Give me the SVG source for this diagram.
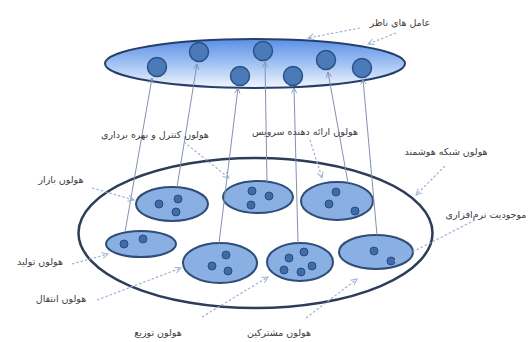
<svg xmlns="http://www.w3.org/2000/svg" width="531" height="342" viewBox="0 0 531 342">
<defs>
<linearGradient id="topGrad" x1="0" y1="0" x2="0" y2="1">
<stop offset="0" stop-color="#5a8fe6"/>
<stop offset="0.55" stop-color="#a8c7f4"/>
<stop offset="1" stop-color="#f2f6ff"/>
</linearGradient>
<marker id="arr" viewBox="0 0 8 8" refX="7" refY="4" markerWidth="7" markerHeight="7" orient="auto" markerUnits="userSpaceOnUse">
<path d="M1,1 L7,4 L1,7" fill="none" stroke="#8391b3" stroke-width="1"/>
</marker>
<marker id="darr" viewBox="0 0 8 8" refX="7" refY="4" markerWidth="8" markerHeight="8" orient="auto" markerUnits="userSpaceOnUse">
<path d="M1,1 L7,4 L1,7" fill="none" stroke="#9fb2d4" stroke-width="1"/>
</marker>
</defs>
<style>
.lbl{font-family:"DejaVu Sans",sans-serif;font-size:9.5px;fill:#3c3c3c;text-anchor:middle}
.sm{fill:#89afe3;stroke:#2f4d76;stroke-width:2}
.dot{fill:#3d6ca8;stroke:#2b4d80;stroke-width:1}
.cir{fill:#4a7bb8;stroke:#2c5185;stroke-width:1.5}
.ln{stroke:#8391b3;stroke-width:1;fill:none;marker-end:url(#arr)}
.dl{stroke:#9fb2d4;stroke-width:1.2;fill:none;stroke-dasharray:2.5 2;marker-end:url(#darr)}
</style>
<rect width="531" height="342" fill="#ffffff"/>

<g id="agents">
<ellipse cx="255" cy="63.5" rx="150" ry="24.5" fill="url(#topGrad)" stroke="#263f6a" stroke-width="2"/>
<circle class="cir" cx="157" cy="67" r="9.5"/>
<circle class="cir" cx="199" cy="52" r="9.5"/>
<circle class="cir" cx="240" cy="76" r="9.5"/>
<circle class="cir" cx="263" cy="51" r="9.5"/>
<circle class="cir" cx="293" cy="76" r="9.5"/>
<circle class="cir" cx="326" cy="60" r="9.5"/>
<circle class="cir" cx="362" cy="68" r="9.5"/>
</g>

<g id="smart-grid">
<ellipse cx="255.5" cy="233" rx="177" ry="75" fill="#ffffff" stroke="#2d3c57" stroke-width="2.5"/>
</g>

<g id="market-holon">
<ellipse class="sm" cx="172" cy="204" rx="36" ry="17"/>
<circle class="dot" cx="159" cy="204" r="4"/>
<circle class="dot" cx="178" cy="199" r="4"/>
<circle class="dot" cx="176" cy="212" r="4"/>
</g>
<g id="control-holon">
<ellipse class="sm" cx="258" cy="197" rx="35" ry="16"/>
<circle class="dot" cx="252" cy="191" r="4"/>
<circle class="dot" cx="269" cy="196" r="4"/>
<circle class="dot" cx="251" cy="205" r="4"/>
</g>
<g id="service-holon">
<ellipse class="sm" cx="337" cy="201" rx="36" ry="19"/>
<circle class="dot" cx="336" cy="192" r="4"/>
<circle class="dot" cx="329" cy="204" r="4"/>
<circle class="dot" cx="355" cy="211" r="4"/>
</g>
<g id="production-holon">
<ellipse class="sm" cx="141" cy="244" rx="35" ry="13"/>
<circle class="dot" cx="124" cy="244" r="4"/>
<circle class="dot" cx="143" cy="239" r="4"/>
</g>
<g id="transmission-holon">
<ellipse class="sm" cx="220" cy="263" rx="37" ry="20"/>
<circle class="dot" cx="226" cy="255" r="4"/>
<circle class="dot" cx="212" cy="266" r="4"/>
<circle class="dot" cx="228" cy="271" r="4"/>
</g>
<g id="distribution-holon">
<ellipse class="sm" cx="300" cy="262" rx="33" ry="19"/>
<circle class="dot" cx="304" cy="252" r="4"/>
<circle class="dot" cx="289" cy="258" r="4"/>
<circle class="dot" cx="312" cy="266" r="4"/>
<circle class="dot" cx="284" cy="270" r="4"/>
<circle class="dot" cx="301" cy="272" r="4"/>
</g>
<g id="subscriber-holon">
<ellipse class="sm" cx="376" cy="252" rx="37" ry="17"/>
<circle class="dot" cx="374" cy="251" r="4"/>
<circle class="dot" cx="391" cy="261" r="4"/>
</g>

<g id="connectors">
<line class="ln" x1="125" y1="232" x2="152" y2="78"/>
<line class="ln" x1="177" y1="187" x2="197" y2="64"/>
<line class="ln" x1="219" y1="243" x2="238" y2="88"/>
<line class="ln" x1="267" y1="182" x2="265" y2="62"/>
<line class="ln" x1="298" y1="243" x2="294" y2="88"/>
<line class="ln" x1="348" y1="183" x2="328" y2="72"/>
<line class="ln" x1="377" y1="235" x2="363" y2="79"/>
<line class="dl" x1="360" y1="28" x2="308" y2="38"/>
<line class="dl" x1="396" y1="33" x2="368" y2="44"/>
<line class="dl" x1="184" y1="142" x2="229" y2="178"/>
<line class="dl" x1="310" y1="140" x2="322" y2="178"/>
<line class="dl" x1="445" y1="166" x2="416" y2="195"/>
<line class="dl" x1="475" y1="220" x2="395" y2="261"/>
<line class="dl" x1="92" y1="188" x2="134" y2="200"/>
<line class="dl" x1="72" y1="264" x2="108" y2="254"/>
<line class="dl" x1="97" y1="300" x2="181" y2="268"/>
<line class="dl" x1="202" y1="317" x2="268" y2="277"/>
<line class="dl" x1="306" y1="318" x2="357" y2="279"/>
</g>

<g id="labels">
<text class="lbl" x="400" y="26">عامل های ناظر</text>
<text class="lbl" x="155" y="138">هولون کنترل و بهره برداری</text>
<text class="lbl" x="305" y="135">هولون ارائه دهنده سرویس</text>
<text class="lbl" x="446" y="155">هولون شبکه هوشمند</text>
<text class="lbl" x="486" y="218">موجودیت نرم‌افزاری</text>
<text class="lbl" x="61" y="183">هولون بازار</text>
<text class="lbl" x="40" y="265">هولون تولید</text>
<text class="lbl" x="61" y="302">هولون انتقال</text>
<text class="lbl" x="158" y="336">هولون توزیع</text>
<text class="lbl" x="279" y="336">هولون مشترکین</text>
</g>
</svg>
